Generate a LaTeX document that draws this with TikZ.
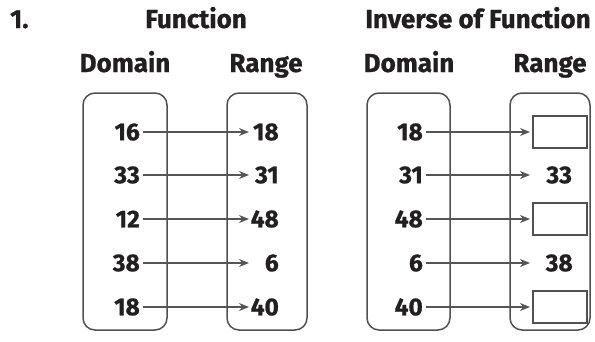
\documentclass[tikz,border=0pt]{standalone}
\usepackage{fontspec}
\setmainfont{Fira Sans}[BoldFeatures={FakeBold=0.8}]
\usetikzlibrary{arrows.meta, positioning}
\definecolor{inkblack}{HTML}{231F20}
\definecolor{linegray}{HTML}{505050}
\definecolor{arrowgray}{HTML}{555555}
\tikzset{
  setbox/.style={draw=linegray, line width=1.5pt, rounded corners=12pt,
                 minimum height=237pt, inner sep=0pt},
  headtxt/.style={font=\fontsize{26}{28}\selectfont\bfseries, inkblack, anchor=base, inner sep=0pt},
  dnum/.style={font=\fontsize{24.5}{27}\selectfont\bfseries, inkblack, anchor=east,
               text width=30pt, align=right, inner sep=3pt},
  rnum/.style={font=\fontsize{24.5}{27}\selectfont\bfseries, inkblack, anchor=west,
               text width=28pt, align=right, inner sep=1.5pt},
  inum/.style={font=\fontsize{24.5}{27}\selectfont\bfseries, inkblack, anchor=west,
               text width=54pt, align=center, inner sep=0pt},
  blank/.style={draw=linegray, line width=1.5pt, anchor=west,
                minimum width=54pt, minimum height=32pt, inner sep=0pt},
  maparr/.style={-{Stealth[length=10pt, width=8pt]}, arrowgray, line width=1.5pt},
}

\begin{document}
\begin{tikzpicture}[x=1pt, y=-1pt]

  \fill[white] (0,0) rectangle (595,341);
  \useasboundingbox (0,0) rectangle (595,341);

  %% ── Headings ──────────────────────────────────────────────────────────────

  \node[headtxt, anchor=base west] (num) at (10,28) {1.};
  \node[headtxt] (ftitle) at (196,28) {Function};
  \node[headtxt] (ititle) at (478,28) {Inverse of Function};

  \node[headtxt] (fdomlab) at (125,72) {Domain};
  \node[headtxt] (franlab) at (266,72) {Range};
  \node[headtxt] (idomlab) at (409,72) {Domain};
  \node[headtxt] (iranlab) at (550,72) {Range};

  %% ── Function (left) ───────────────────────────────────────────────────────

  \node[setbox, minimum width=84pt] (fdombox) at (125,211.5) {};
  \node[setbox, minimum width=80pt] (franbox) at (267,211.5) {};

  \node[dnum] (fd1) at (143,132) {16};
  \node[dnum] (fd2) at (143,175) {33};
  \node[dnum] (fd3) at (143,219) {12};
  \node[dnum] (fd4) at (143,263) {38};
  \node[dnum] (fd5) at (143,307) {18};

  \node[rnum, right=106pt of fd1.east] (fr1) {18};
  \node[rnum, right=106pt of fd2.east] (fr2) {31};
  \node[rnum, right=106pt of fd3.east] (fr3) {48};
  \node[rnum, right=106pt of fd4.east] (fr4) {6};
  \node[rnum, right=106pt of fd5.east] (fr5) {40};

  \draw[maparr] (fd1) -- (fr1);
  \draw[maparr] (fd2) -- (fr2);
  \draw[maparr] (fd3) -- (fr3);
  \draw[maparr] (fd4) -- (fr4);
  \draw[maparr] (fd5) -- (fr5);

  %% ── Inverse of function (right) ───────────────────────────────────────────

  \node[setbox, minimum width=83pt] (idombox) at (408.5,211.5) {};
  \node[setbox, minimum width=80pt] (iranbox) at (550,211.5) {};

  \node[dnum] (id1) at (426,132) {18};
  \node[dnum] (id2) at (426,175) {31};
  \node[dnum] (id3) at (426,219) {48};
  \node[dnum] (id4) at (426,263) {6};
  \node[dnum] (id5) at (426,307) {40};

  \node[blank, right=106pt of id1.east] (ir1) {};
  \node[inum,  right=106pt of id2.east] (ir2) {33};
  \node[blank, right=106pt of id3.east] (ir3) {};
  \node[inum,  right=106pt of id4.east] (ir4) {38};
  \node[blank, right=106pt of id5.east] (ir5) {};

  \draw[maparr, shorten >=2pt] (id1) -- (ir1);
  \draw[maparr, shorten >=2pt] (id2) -- (ir2);
  \draw[maparr, shorten >=2pt] (id3) -- (ir3);
  \draw[maparr, shorten >=2pt] (id4) -- (ir4);
  \draw[maparr, shorten >=2pt] (id5) -- (ir5);

\end{tikzpicture}
\end{document}
